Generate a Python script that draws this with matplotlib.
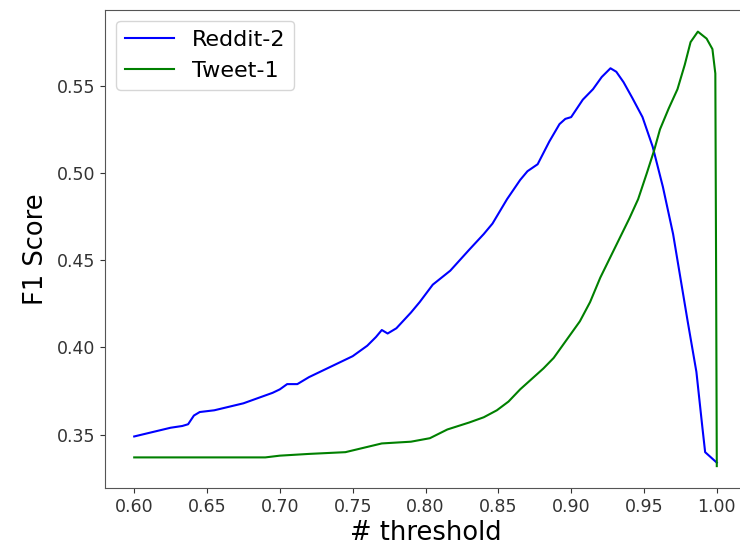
import matplotlib
matplotlib.use("Agg")
import matplotlib.pyplot as plt

# Reddit-2
reddit_x = [0.600, 0.605, 0.615, 0.625, 0.633, 0.637, 0.641, 0.645, 0.655, 0.665,
            0.675, 0.685, 0.695, 0.700, 0.705, 0.712, 0.720, 0.730, 0.740, 0.750,
            0.760, 0.766, 0.770, 0.774, 0.780, 0.790, 0.796, 0.805, 0.817, 0.830,
            0.840, 0.846, 0.856, 0.865, 0.870, 0.877, 0.885, 0.892, 0.896, 0.900,
            0.908, 0.915, 0.921, 0.927, 0.931, 0.936, 0.942, 0.949, 0.956, 0.963,
            0.970, 0.975, 0.980, 0.986, 0.990, 0.992, 0.996, 1.000]
reddit_y = [0.349, 0.350, 0.352, 0.354, 0.355, 0.356, 0.361, 0.363, 0.364, 0.366,
            0.368, 0.371, 0.374, 0.376, 0.379, 0.379, 0.383, 0.387, 0.391, 0.395,
            0.401, 0.406, 0.410, 0.408, 0.411, 0.420, 0.426, 0.436, 0.444, 0.456,
            0.465, 0.471, 0.485, 0.496, 0.501, 0.505, 0.518, 0.528, 0.531, 0.532,
            0.542, 0.548, 0.555, 0.560, 0.558, 0.552, 0.543, 0.532, 0.515, 0.492,
            0.465, 0.440, 0.415, 0.386, 0.355, 0.340, 0.337, 0.334]

# Tweet-1
tweet_x = [0.600, 0.650, 0.690, 0.700, 0.720, 0.745, 0.760, 0.770, 0.790, 0.803,
           0.815, 0.830, 0.840, 0.849, 0.857, 0.865, 0.873, 0.881, 0.888, 0.894,
           0.900, 0.906, 0.913, 0.920, 0.930, 0.940, 0.946, 0.952, 0.957, 0.961,
           0.967, 0.973, 0.978, 0.982, 0.987, 0.990, 0.993, 0.997, 0.999, 0.9995,
           1.000]
tweet_y = [0.337, 0.337, 0.337, 0.338, 0.339, 0.340, 0.343, 0.345, 0.346, 0.348,
           0.353, 0.357, 0.360, 0.364, 0.369, 0.376, 0.382, 0.388, 0.394, 0.401,
           0.408, 0.415, 0.426, 0.440, 0.457, 0.474, 0.485, 0.500, 0.513, 0.525,
           0.537, 0.548, 0.562, 0.575, 0.581, 0.579, 0.577, 0.571, 0.557, 0.450,
           0.332]

fig = plt.figure(figsize=(7.4, 5.5), dpi=100)
ax = fig.add_axes([0.142, 0.113, 0.866, 0.869])

ax.plot(reddit_x, reddit_y, color="blue", lw=1.5, label="Reddit-2")
ax.plot(tweet_x, tweet_y, color="green", lw=1.5, label="Tweet-1")

ax.set_xlabel("# threshold", fontsize=18.5, labelpad=3)
ax.set_ylabel("F1 Score", fontsize=18.5, labelpad=6)
ax.tick_params(axis="both", labelsize=12.5, colors="#333333")
ax.set_xticks([0.60, 0.65, 0.70, 0.75, 0.80, 0.85, 0.90, 0.95, 1.00])
ax.set_yticks([0.35, 0.40, 0.45, 0.50, 0.55])
for s in ax.spines.values():
    s.set_color("#555555")
ax.legend(loc="upper left", fontsize=16, handlelength=2.2)

plt.savefig("out.png", dpi=100)
